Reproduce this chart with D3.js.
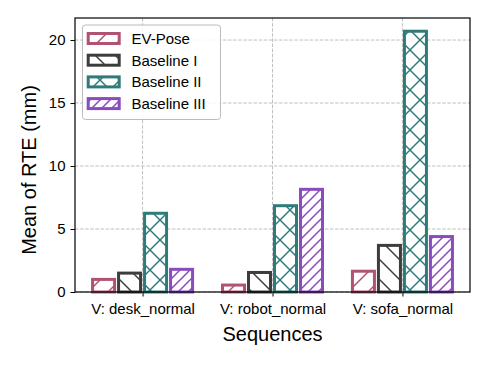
<!DOCTYPE html>
<html><head><meta charset="utf-8">
<script src="https://cdn.jsdelivr.net/npm/d3@7"></script>
<style>body{margin:0;background:#fff}svg{display:block;font-family:"Liberation Sans",Arial,sans-serif}</style>
</head><body>
<svg id="c" width="488" height="366"></svg>
<script>
const categories = ["V: desk_normal", "V: robot_normal", "V: sofa_normal"];
const seriesNames = ["EV-Pose", "Baseline I", "Baseline II", "Baseline III"];
const evPose = [1.0, 0.55, 1.65];
const baseline1 = [1.5, 1.55, 3.7];
const baseline2 = [6.25, 6.85, 20.7];
const baseline3 = [1.8, 8.15, 4.4];
const yTicks = [0, 5, 10, 15, 20];
const colors = ["#b05272", "#3d3d3d", "#2e7b7a", "#8a4bbd"];
const hatches = ["/", "\\", "x", "//"];
const values = [evPose, baseline1, baseline2, baseline3];

const svg = d3.select("#c");
const L = 75, R = 470, T = 18, B = 292;
const x = d3.scalePoint().domain(categories).range([L, R]).padding(0.52);
const xs = d3.scaleBand().domain(seriesNames).range([-52, 52]);
const y = d3.scaleLinear().domain([0, 21.75]).range([B, T]);

// hatch patterns
const defs = svg.append("defs");
hatches.forEach((h, i) => {
  const s = h === "//" ? 10 : 20;
  const p = defs.append("pattern").attr("id", "h" + i).attr("patternUnits", "userSpaceOnUse")
    .attr("width", s).attr("height", s);
  const line = (x1, y1, x2, y2) => p.append("line").attr("x1", x1).attr("y1", y1).attr("x2", x2).attr("y2", y2)
    .attr("stroke", colors[i]).attr("stroke-width", 1.5).attr("stroke-linecap", "square");
  if (h === "/" || h === "//" || h === "x") { line(0, s, s, 0); line(-s/2, s/2, s/2, -s/2); line(s/2, s*1.5, s*1.5, s/2); }
  if (h === "\\" || h === "x") { line(0, 0, s, s); line(-s/2, s/2, s/2, s*1.5); line(s/2, -s/2, s*1.5, s/2); }
});

// grid
const dash = "3.5,1.6";
svg.append("g").selectAll("line").data(yTicks).join("line")
  .attr("x1", L).attr("x2", R).attr("y1", d => y(d)).attr("y2", d => y(d))
  .attr("stroke", "#b0b0b0").attr("stroke-width", 0.8).attr("stroke-dasharray", dash);
svg.append("g").selectAll("line").data(categories).join("line")
  .attr("y1", T).attr("y2", B).attr("x1", d => x(d)).attr("x2", d => x(d))
  .attr("stroke", "#b0b0b0").attr("stroke-width", 0.8).attr("stroke-dasharray", dash);

// bars
const bw = 22;
seriesNames.forEach((s, i) => {
  const g = svg.append("g");
  const data = categories.map((c, j) => ({c, v: values[i][j]}));
  const bx = d => x(d.c) + xs(s) + (xs.bandwidth() - bw) / 2;
  g.selectAll("rect.f").data(data).join("rect")
    .attr("x", bx).attr("width", bw).attr("y", d => y(d.v)).attr("height", d => y(0) - y(d.v))
    .attr("fill", "#fff");
  g.selectAll("rect.h").data(data).join("rect")
    .attr("x", bx).attr("width", bw).attr("y", d => y(d.v)).attr("height", d => y(0) - y(d.v))
    .attr("fill", `url(#h${i})`).attr("stroke", colors[i]).attr("stroke-width", 3);
});

// axes
const xa = svg.append("g").attr("transform", `translate(0,${B})`)
  .call(d3.axisBottom(x).tickSize(4.5).tickPadding(7).tickSizeOuter(0));
const ya = svg.append("g").attr("transform", `translate(${L},0)`)
  .call(d3.axisLeft(y).tickValues(yTicks).tickSize(4.5).tickPadding(5).tickSizeOuter(0));
[xa, ya].forEach(a => {
  a.select(".domain").remove();
  a.selectAll("line").attr("stroke", "#000").attr("stroke-width", 1);
  a.selectAll("text").attr("font-size", 15).attr("fill", "#000").attr("font-family", "Liberation Sans, Arial, sans-serif");
});
svg.append("rect").attr("x", L).attr("y", T).attr("width", R - L).attr("height", B - T)
  .attr("fill", "none").attr("stroke", "#000").attr("stroke-width", 1.2);

svg.append("text").attr("x", (L + R) / 2).attr("y", 341).attr("text-anchor", "middle")
  .attr("font-size", 20).text("Sequences");
svg.append("text").attr("transform", `translate(36,170) rotate(-90)`).attr("text-anchor", "middle")
  .attr("font-size", 20).text("Mean of RTE (mm)");

// legend
const lg = svg.append("g");
lg.append("rect").attr("x", 82.5).attr("y", 25).attr("width", 138).attr("height", 94.5).attr("rx", 3)
  .attr("fill", "#fff").attr("fill-opacity", 0.85).attr("stroke", "#bbbbbb").attr("stroke-width", 1);
seriesNames.forEach((s, i) => {
  const cy = 38.5 + i * 21.7;
  lg.append("rect").attr("x", 88.2).attr("y", cy - 5).attr("width", 31).attr("height", 10)
    .attr("fill", `url(#h${i})`).attr("stroke", colors[i]).attr("stroke-width", 3);
  lg.append("text").attr("x", 131.5).attr("y", cy + 5.5).attr("font-size", 15).text(s);
});
</script>
</body></html>
